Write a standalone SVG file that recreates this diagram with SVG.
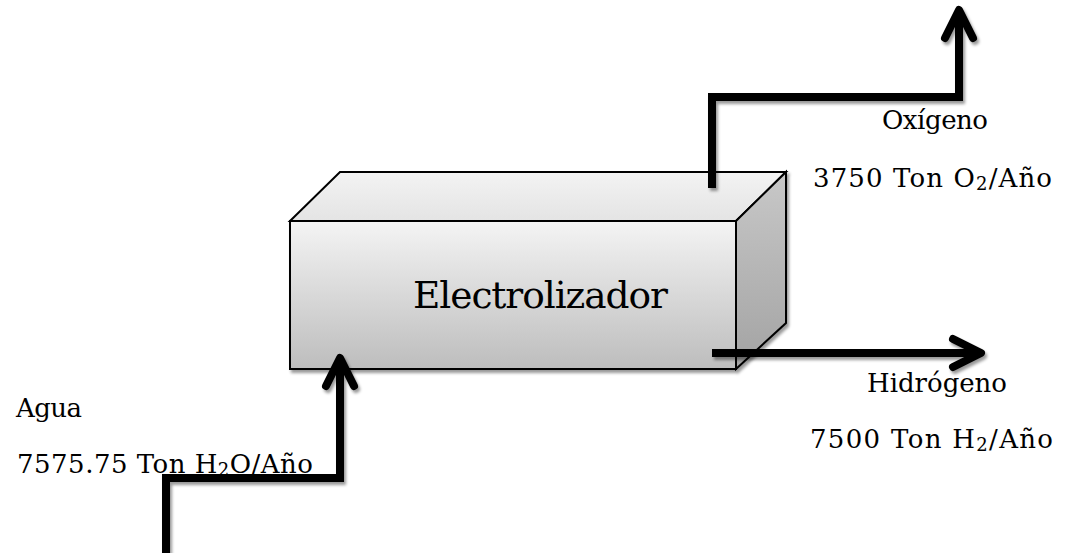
<svg xmlns="http://www.w3.org/2000/svg" width="1073" height="553" viewBox="0 0 1073 553">
  <style>
    .lbl { font-family: "DejaVu Serif", "Liberation Serif", serif; font-size: 26px; fill: #000; }
    .title { font-family: "DejaVu Serif", "Liberation Serif", serif; font-size: 37.5px; fill: #000; }
    .sub { font-size: 18px; }
    .flow { fill: none; stroke: #000; stroke-width: 8; stroke-linejoin: miter; stroke-linecap: butt; }
    .head { fill: none; stroke: #000; stroke-width: 8; stroke-linejoin: round; stroke-linecap: round; }
    .edge { stroke: #000; stroke-width: 2; stroke-linejoin: miter; }
  </style>
  <defs>
    <linearGradient id="gFront" x1="0" y1="0" x2="0" y2="1">
      <stop offset="0" stop-color="#f4f4f4"/>
      <stop offset="1" stop-color="#bdbdbd"/>
    </linearGradient>
    <linearGradient id="gTop" x1="0" y1="0" x2="0" y2="1">
      <stop offset="0" stop-color="#f3f3f3"/>
      <stop offset="1" stop-color="#e4e4e4"/>
    </linearGradient>
    <linearGradient id="gRight" x1="0" y1="0" x2="0" y2="1">
      <stop offset="0" stop-color="#c8c8c8"/>
      <stop offset="1" stop-color="#a3a3a3"/>
    </linearGradient>
    <filter id="shadow" x="-10%" y="-10%" width="130%" height="130%">
      <feDropShadow dx="2" dy="3" stdDeviation="1.5" flood-color="#000" flood-opacity="0.4"/>
    </filter>
  </defs>

  <rect width="1073" height="553" fill="#fff"/>

  <g id="node-electrolizador" filter="url(#shadow)">
    <polygon class="edge" points="290,221 340,172 786,172 736,221" fill="url(#gTop)"/>
    <polygon class="edge" points="736,221 786,172 786,323 736,369" fill="url(#gRight)"/>
    <rect class="edge" x="290" y="221" width="446" height="148" fill="url(#gFront)"/>
  </g>
  <g id="node-electrolizador-label">
    <text class="title" x="413" y="308" textLength="255">Electrolizador</text>
  </g>

  <g id="label-agua">
    <text class="lbl" x="16" y="417" textLength="66">Agua</text>
    <text class="lbl" x="17" y="473" textLength="296">7575.75 Ton H<tspan class="sub" dy="3">2</tspan><tspan dy="-3">O/Año</tspan></text>
  </g>
  <g id="label-oxigeno">
    <text class="lbl" x="882" y="129" textLength="106">Oxígeno</text>
    <text class="lbl" x="813" y="187" textLength="239">3750 Ton O<tspan class="sub" dy="3">2</tspan><tspan dy="-3">/Año</tspan></text>
  </g>
  <g id="label-hidrogeno">
    <text class="lbl" x="867" y="392" textLength="140">Hidrógeno</text>
    <text class="lbl" x="810" y="448" textLength="243">7500 Ton H<tspan class="sub" dy="3">2</tspan><tspan dy="-3">/Año</tspan></text>
  </g>

  <g id="connectors" filter="url(#shadow)">
    <g id="flow-agua">
      <path class="flow" d="M166,553 V478 H340 V360"/>
      <path class="head" d="M326,386 L340,358 L354,386"/>
    </g>
    <g id="flow-oxigeno">
      <path class="flow" d="M712,188 V97 H959 V12"/>
      <path class="head" d="M945,38 L959,10 L973,38"/>
    </g>
    <g id="flow-hidrogeno">
      <path class="flow" d="M712,353 H978"/>
      <path class="head" d="M953,339 L981,353 L953,367"/>
    </g>
  </g>
</svg>
